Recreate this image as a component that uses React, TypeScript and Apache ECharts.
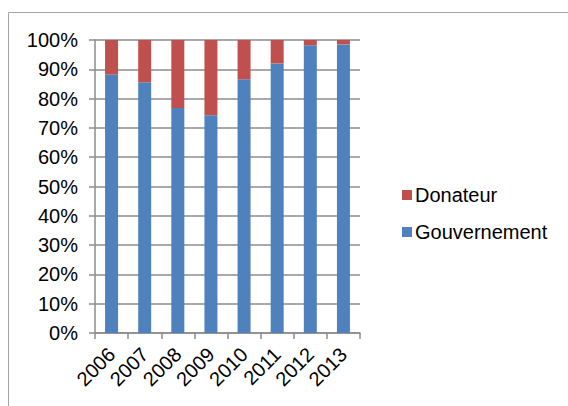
import React, { useEffect, useRef } from "react";
import * as echarts from "echarts";

// Share of funding by source, per year (percent of total)
const years = ["2006", "2007", "2008", "2009", "2010", "2011", "2012", "2013"];
const gouvernement = [88.2, 85.6, 76.8, 74.3, 86.6, 92.0, 98.2, 98.5];
const donateur = [11.8, 14.4, 23.2, 25.7, 13.4, 8.0, 1.8, 1.5];
const legendOrder = ["Donateur", "Gouvernement"];

const FONT = "'Liberation Sans', Arial, sans-serif";
const GRID_GREY = "#8c8c8c";

export default function App() {
  const ref = useRef<HTMLDivElement>(null);

  useEffect(() => {
    if (!ref.current) return;
    const chart = echarts.init(ref.current, undefined, { renderer: "svg" });
    chart.setOption({
      animation: false,
      backgroundColor: "#ffffff",
      textStyle: { fontFamily: FONT },
      graphic: [
        {
          type: "rect",
          shape: { x: 8.5, y: 12.5, width: 600, height: 500 },
          style: { fill: "none", stroke: "#a6a6a6", lineWidth: 1 },
          silent: true,
        },
      ],
      grid: { left: 95, right: 208, top: 40, bottom: 73 },
      legend: {
        data: legendOrder,
        orient: "vertical",
        left: 397,
        top: 180,
        itemWidth: 10,
        itemHeight: 10,
        itemGap: 17,
        icon: "rect",
        textStyle: { fontSize: 20, color: "#000", fontFamily: FONT, padding: [0, 0, 0, -2] },
      },
      xAxis: {
        type: "category",
        data: years,
        boundaryGap: true,
        axisLine: { lineStyle: { color: GRID_GREY, width: 1.5 } },
        axisTick: { show: true, length: 6, alignWithLabel: false, lineStyle: { color: GRID_GREY, width: 1.5 } },
        axisLabel: { rotate: 45, fontSize: 20, color: "#000", fontFamily: FONT, margin: 18, interval: 0 },
      },
      yAxis: {
        type: "value",
        min: 0,
        max: 100,
        interval: 10,
        axisLine: { show: true, lineStyle: { color: GRID_GREY, width: 1.5 } },
        axisTick: { show: true, length: 6, lineStyle: { color: GRID_GREY, width: 1.5 } },
        splitLine: { show: true, lineStyle: { color: GRID_GREY, width: 1.5 } },
        axisLabel: { formatter: "{value}%", fontSize: 20, color: "#000", fontFamily: FONT, margin: 17 },
      },
      series: [
        {
          name: "Gouvernement",
          type: "bar",
          stack: "total",
          data: gouvernement,
          barWidth: 13,
          itemStyle: { color: "#4F81BD" },
        },
        {
          name: "Donateur",
          type: "bar",
          stack: "total",
          data: donateur,
          barWidth: 13,
          itemStyle: { color: "#C0504D" },
        },
      ],
    });
    return () => chart.dispose();
  }, []);

  return (
    <div
      ref={ref}
      style={{ position: "fixed", left: 0, top: 0, width: 568, height: 406 }}
    />
  );
}
